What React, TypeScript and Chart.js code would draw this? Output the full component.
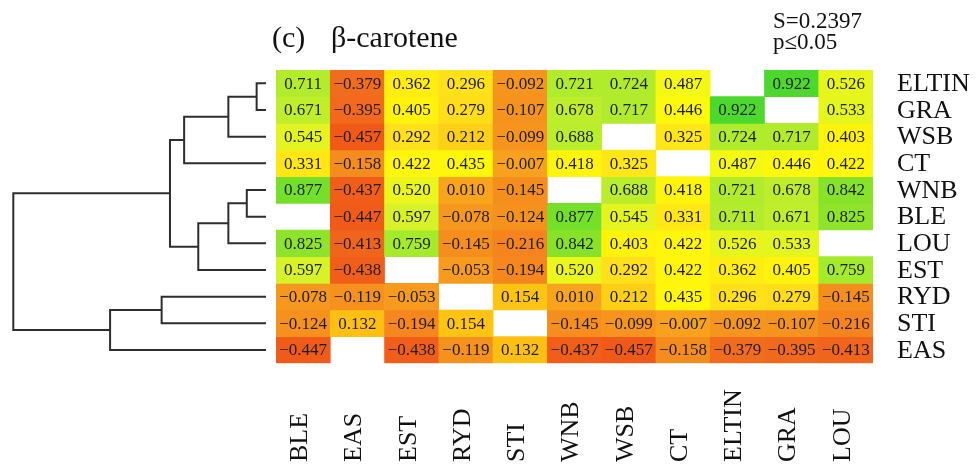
import React, { useEffect, useRef } from "react";
import { Chart, registerables } from "chart.js";

Chart.register(...registerables);

// ---------- data ----------
const colLabels = ["BLE", "EAS", "EST", "RYD", "STI", "WNB", "WSB", "CT", "ELTIN", "GRA", "LOU"];
const rowLabels = ["ELTIN", "GRA", "WSB", "CT", "WNB", "BLE", "LOU", "EST", "RYD", "STI", "EAS"];

const rowELTIN = [0.711, -0.379, 0.362, 0.296, -0.092, 0.721, 0.724, 0.487, null, 0.922, 0.526];
const rowGRA = [0.671, -0.395, 0.405, 0.279, -0.107, 0.678, 0.717, 0.446, 0.922, null, 0.533];
const rowWSB = [0.545, -0.457, 0.292, 0.212, -0.099, 0.688, null, 0.325, 0.724, 0.717, 0.403];
const rowCT = [0.331, -0.158, 0.422, 0.435, -0.007, 0.418, 0.325, null, 0.487, 0.446, 0.422];
const rowWNB = [0.877, -0.437, 0.52, 0.01, -0.145, null, 0.688, 0.418, 0.721, 0.678, 0.842];
const rowBLE = [null, -0.447, 0.597, -0.078, -0.124, 0.877, 0.545, 0.331, 0.711, 0.671, 0.825];
const rowLOU = [0.825, -0.413, 0.759, -0.145, -0.216, 0.842, 0.403, 0.422, 0.526, 0.533, null];
const rowEST = [0.597, -0.438, null, -0.053, -0.194, 0.52, 0.292, 0.422, 0.362, 0.405, 0.759];
const rowRYD = [-0.078, -0.119, -0.053, null, 0.154, 0.01, 0.212, 0.435, 0.296, 0.279, -0.145];
const rowSTI = [-0.124, 0.132, -0.194, 0.154, null, -0.145, -0.099, -0.007, -0.092, -0.107, -0.216];
const rowEAS = [-0.447, null, -0.438, -0.119, 0.132, -0.437, -0.457, -0.158, -0.379, -0.395, -0.413];

const matrix: (number | null)[][] = [
  rowELTIN, rowGRA, rowWSB, rowCT, rowWNB, rowBLE, rowLOU, rowEST, rowRYD, rowSTI, rowEAS,
];

// dendrogram: leaves are row indices 0..10, merge k gets node id 11+k
const mergePairs: [number, number][] = [
  [0, 1], [11, 2], [12, 3], [4, 5], [14, 6], [15, 7], [13, 16], [8, 9], [18, 10], [17, 19],
];
const mergeHeights = [0.037, 0.149, 0.324, 0.076, 0.149, 0.268, 0.38, 0.413, 0.617, 1.0];

const panelTag = "(c)";
const panelTitle = "β-carotene";
const statS = "S=0.2397";
const statP = "p≤0.05";

// ---------- style ----------
const palette: [number, [number, number, number]][] = [
  [-0.46, [240, 88, 24]],
  [-0.38, [242, 108, 30]],
  [-0.2, [245, 134, 30]],
  [-0.1, [246, 148, 30]],
  [0.0, [248, 162, 30]],
  [0.13, [253, 192, 18]],
  [0.22, [254, 208, 24]],
  [0.3, [255, 226, 26]],
  [0.38, [255, 240, 14]],
  [0.44, [255, 248, 10]],
  [0.49, [244, 248, 20]],
  [0.53, [230, 245, 30]],
  [0.6, [214, 242, 40]],
  [0.7, [182, 236, 44]],
  [0.76, [166, 234, 44]],
  [0.83, [140, 228, 42]],
  [0.88, [116, 224, 42]],
  [0.92, [76, 216, 44]],
];

function colorFor(v: number): string {
  if (v <= palette[0][0]) return `rgb(${palette[0][1].join(",")})`;
  for (let i = 1; i < palette.length; i++) {
    const [v1, c1] = palette[i];
    const [v0, c0] = palette[i - 1];
    if (v <= v1) {
      const t = (v - v0) / (v1 - v0);
      const c = c0.map((a, k) => Math.round(a + (c1[k] - a) * t));
      return `rgb(${c.join(",")})`;
    }
  }
  return `rgb(${palette[palette.length - 1][1].join(",")})`;
}

const SERIF = '"Liberation Serif", "Times New Roman", serif';
const W = 976;
const H = 468;
const PAD_TOP = 70;
const PAD_BOTTOM = 104.7;

function fmt(v: number): string {
  const s = Math.abs(v).toFixed(3);
  return v < 0 ? "\u2212" + s : s;
}

const textPlugin = {
  id: "heatText",
  afterDatasetsDraw(chart: any) {
    const ctx = chart.ctx;
    const xs = chart.scales.x;
    const ys = chart.scales.y;
    ctx.save();
    // cell values
    ctx.font = `17px ${SERIF}`;
    ctx.fillStyle = "#1e1e1e";
    ctx.textAlign = "center";
    ctx.textBaseline = "middle";
    matrix.forEach((row, i) => {
      row.forEach((v, j) => {
        if (v === null) return;
        ctx.fillText(fmt(v), xs.getPixelForValue(j), ys.getPixelForValue(i + 0.5) + 1);
      });
    });
    // row labels
    ctx.font = `26px ${SERIF}`;
    ctx.fillStyle = "#111";
    ctx.textAlign = "left";
    rowLabels.forEach((lab, i) => {
      ctx.fillText(lab, chart.chartArea.right + 24, ys.getPixelForValue(i + 0.5) + 1);
    });
    // column labels (rotated)
    colLabels.forEach((lab, j) => {
      ctx.save();
      ctx.translate(xs.getPixelForValue(j) - 3, 462);
      ctx.rotate(-Math.PI / 2);
      ctx.textAlign = "left";
      ctx.textBaseline = "middle";
      ctx.fillText(lab, 0, 0);
      ctx.restore();
    });
    // title
    ctx.textBaseline = "alphabetic";
    ctx.textAlign = "left";
    ctx.font = `30px ${SERIF}`;
    ctx.fillText(panelTag, 272, 47);
    ctx.fillText(panelTitle, 331, 47);
    ctx.font = `23px ${SERIF}`;
    ctx.fillText(statS, 773, 28);
    ctx.fillText(statP, 773, 49);
    ctx.restore();
  },
};

export default function App() {
  const heatRef = useRef<HTMLCanvasElement | null>(null);
  const dendRef = useRef<HTMLCanvasElement | null>(null);

  useEffect(() => {
    if (!heatRef.current || !dendRef.current) return;

    const heat = new Chart(heatRef.current, {
      type: "bar",
      data: {
        labels: colLabels,
        datasets: matrix.map((row, i) => ({
          label: rowLabels[i],
          data: row.map((v) => (v === null ? null : [i, i + 1])) as any,
          backgroundColor: row.map((v) => (v === null ? "rgba(0,0,0,0)" : colorFor(v))),
          borderWidth: 0,
          barPercentage: 1,
          categoryPercentage: 1,
          grouped: false,
        })) as any,
      },
      options: {
        responsive: false,
        animation: false,
        devicePixelRatio: 1,
        layout: { padding: { left: 276, right: W - 873, top: PAD_TOP, bottom: PAD_BOTTOM } },
        scales: {
          x: { type: "category", display: false, offset: true, grid: { display: false } },
          y: { type: "linear", min: 0, max: 11, reverse: true, display: false },
        },
        plugins: { legend: { display: false }, tooltip: { enabled: false }, title: { display: false } },
      } as any,
      plugins: [textPlugin],
    });

    // dendrogram geometry from merges
    const nodeY: number[] = rowLabels.map((_, i) => i + 0.5);
    const nodeH: number[] = rowLabels.map(() => 0);
    const dendSets: any[] = [];
    mergePairs.forEach(([a, b], k) => {
      const h = mergeHeights[k];
      dendSets.push({
        data: [
          { x: nodeH[a], y: nodeY[a] },
          { x: h, y: nodeY[a] },
          { x: h, y: nodeY[b] },
          { x: nodeH[b], y: nodeY[b] },
        ],
        showLine: true,
        borderColor: "#2e2e2e",
        borderWidth: 2,
        pointRadius: 0,
        tension: 0,
        fill: false,
        clip: false,
        borderJoinStyle: "miter",
        borderCapStyle: "butt",
      });
      nodeY.push((nodeY[a] + nodeY[b]) / 2);
      nodeH.push(h);
    });

    const dend = new Chart(dendRef.current, {
      type: "scatter",
      data: { datasets: dendSets },
      options: {
        responsive: false,
        animation: false,
        devicePixelRatio: 1,
        layout: { padding: { left: 13.3, right: W - 266, top: PAD_TOP, bottom: PAD_BOTTOM } },
        scales: {
          x: { type: "linear", min: 0, max: 1, reverse: true, display: false },
          y: { type: "linear", min: 0, max: 11, reverse: true, display: false },
        },
        plugins: { legend: { display: false }, tooltip: { enabled: false } },
      } as any,
    });

    return () => {
      heat.destroy();
      dend.destroy();
    };
  }, []);

  return (
    <div style={{ position: "fixed", left: 0, top: 0, width: W, height: H, background: "#fff" }}>
      <canvas ref={heatRef} width={W} height={H} style={{ position: "absolute", left: 0, top: 0 }} />
      <canvas ref={dendRef} width={W} height={H} style={{ position: "absolute", left: 0, top: 0 }} />
    </div>
  );
}
